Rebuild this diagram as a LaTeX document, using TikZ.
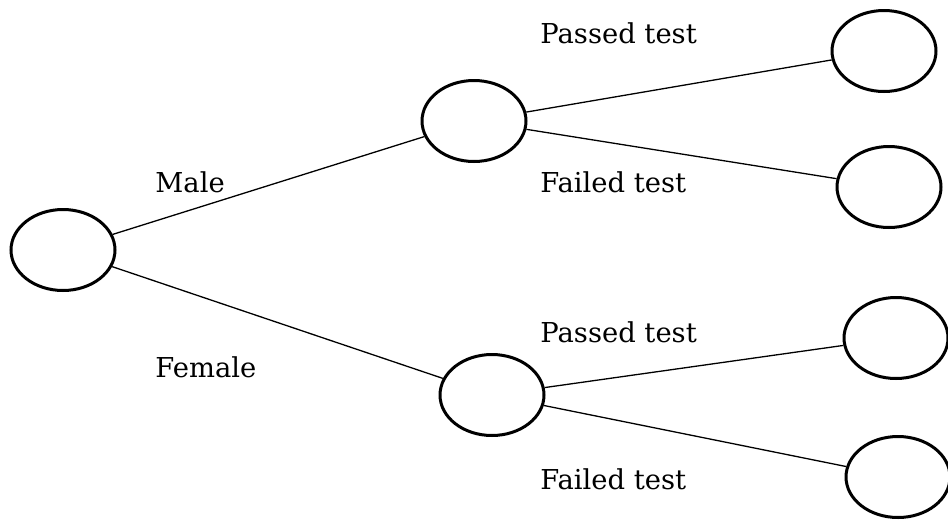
\documentclass[tikz,border=0pt]{standalone}
\usepackage{fontspec}
\setmainfont{DejaVu Serif}
\usetikzlibrary{shapes}
\tikzset{
    mynode/.style = {ellipse, line width=1.5pt, draw=black, fill=white, inner sep=0pt, minimum width=52pt, minimum height=40.5pt},
    edgen/.style = {-, line width=0.65pt, black},
    mylabel/.style = {anchor=base west, inner sep=0pt, font=\fontsize{13.7}{16}\selectfont}
}
\begin{document}
\begin{tikzpicture}
  \useasboundingbox (-31.5pt,-135.5pt) rectangle (442.5pt,125pt);
  % root and first split
  \node[mynode] (root) at (0pt,0pt) {};
  \node[mynode] (male) at (205.5pt,64.5pt) {};
  \node[mynode] (female) at (214.5pt,-72.5pt) {};
  % second split
  \node[mynode] (mp) at (410.5pt,99.5pt) {};
  \node[mynode] (mf) at (413pt,31.5pt) {};
  \node[mynode] (fp) at (416.5pt,-44pt) {};
  \node[mynode] (ff) at (417.5pt,-113.5pt) {};
  \draw[edgen] (root) -- (male);
  \draw[edgen] (root) -- (female);
  \draw[edgen] (male) -- (mp);
  \draw[edgen] (male) -- (mf);
  \draw[edgen] (female) -- (fp);
  \draw[edgen] (female) -- (ff);
  % edge labels
  \node[mylabel] (lmale) at (46pt,29pt) {Male};
  \node[mylabel] (lfemale) at (46pt,-63.5pt) {Female};
  \node[mylabel] (lmp) at (238.5pt,103.5pt) {Passed test};
  \node[mylabel] (lmf) at (238.5pt,29pt) {Failed test};
  \node[mylabel] (lfp) at (238.5pt,-46pt) {Passed test};
  \node[mylabel] (lff) at (238.5pt,-119.5pt) {Failed test};
\end{tikzpicture}
\end{document}
